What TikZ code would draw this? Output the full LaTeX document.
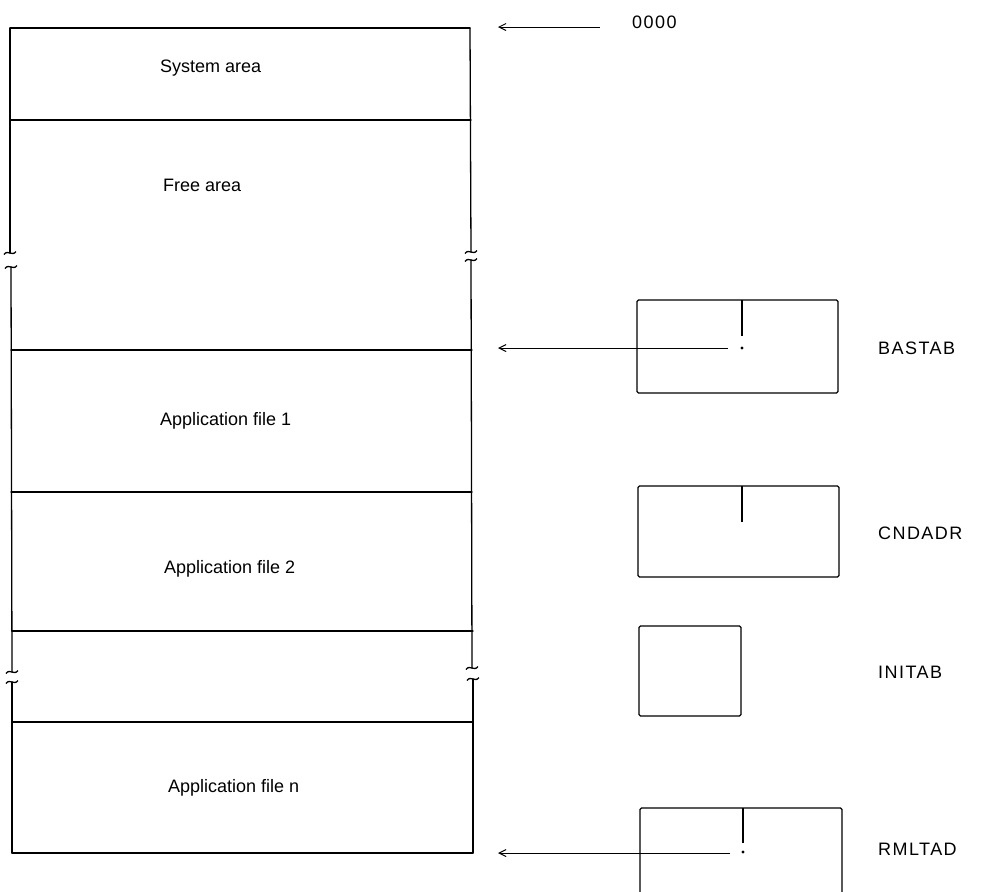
\documentclass[tikz,border=0pt]{standalone}
\usepackage{fontspec}
\setmainfont{Liberation Sans}
\newfontfamily\labelfont[LetterSpace=8]{Liberation Sans}
\usetikzlibrary{arrows.meta}
\newcommand\brkmark[2]{\draw[tilde] (#1-6,#2+1.5) .. controls (#1-2,#2-4) and (#1+2,#2+4) .. (#1+6,#2-1.5);}
\begin{document}
\begin{tikzpicture}[x=1pt,y=-1pt,
  wall/.style={line width=1.3pt, line cap=round, line join=round},
  tbl/.style={line width=1.1pt, rounded corners=1.5pt},
  arr/.style={line width=1pt, -{Straight Barb[length=7pt,width=7pt]}},
  txt/.style={font=\fontsize{18}{20}\selectfont, anchor=west, inner sep=0pt},
  lbl/.style={font=\labelfont\fontsize{18}{20}\selectfont, anchor=west, inner sep=0pt},
  tilde/.style={line width=1.3pt}]
\useasboundingbox (0,0) rectangle (986,892);
\fill[white] (0,0) rectangle (986,892);
% column corners and boundaries
\coordinate (TL) at (10,28);  \coordinate (TR) at (470,28);
\coordinate (S1L) at (10,120); \coordinate (S1R) at (471,120);
\coordinate (S2L) at (11,350); \coordinate (S2R) at (472,350);
\coordinate (S3L) at (11,492); \coordinate (S3R) at (472,492);
\coordinate (S4L) at (12,631); \coordinate (S4R) at (473,631);
\coordinate (S5L) at (12,722); \coordinate (S5R) at (473,722);
\coordinate (BL) at (12,853); \coordinate (BR) at (473,853);
\draw[wall] (TL) -- (TR);
\draw[wall] (S1L) -- (S1R);
\draw[wall] (S2L) -- (S2R);
\draw[wall] (S3L) -- (S3R);
\draw[wall] (S4L) -- (S4R);
\draw[wall] (S5L) -- (S5R);
\draw[wall] (BL) -- (BR);
% left side with breaks
\draw[wall] (TL) -- (10,253);
\draw[wall] (11,267) -- (12,672);
\draw[wall] (12,682) -- (BL);
\brkmark{10}{253}\brkmark{11}{267}
\brkmark{12}{672}\brkmark{12}{682}
% right side with breaks
\draw[wall] (TR) -- (471,252);
\draw[wall] (471,260) -- (472,668);
\draw[wall] (473,679) -- (BR);
\brkmark{471}{252}\brkmark{471}{260}
\brkmark{472}{668}\brkmark{473}{679}
% texts
\node[txt] (sys) at (160,68) {System area};
\node[txt] (free) at (163,185) {Free area};
\node[txt] (app1) at (160,421) {Application file 1};
\node[txt] (app2) at (164,569) {Application file 2};
\node[txt] (appn) at (168,788) {Application file n};
% 0000 pointer
\node[lbl] (zero) at (632,22) {0000};
\coordinate (z0) at (600,27); \coordinate (z1) at (498,27);
\draw[arr] (z0) -- (z1);
% BASTAB
\node[draw, tbl, inner sep=0pt, minimum width=201pt, minimum height=93pt] (bastab) at (737.5,346.5) {};
\draw[tbl] (742,300) -- (742,336);
\fill (742,348) circle (1.7);
\coordinate (bp) at (728,348); \coordinate (bt) at (498,348);
\draw[arr] (bp) -- (bt);
\node[lbl] (lbastab) at (878,348) {BASTAB};
% CNDADR
\node[draw, tbl, inner sep=0pt, minimum width=201pt, minimum height=91pt] (cndadr) at (738.5,531.5) {};
\draw[tbl] (742,486) -- (742,522);
\node[lbl] (lcndadr) at (878,533) {CNDADR};
% INITAB
\node[draw, tbl, inner sep=0pt, minimum width=102pt, minimum height=90pt] (initab) at (690,671) {};
\node[lbl] (linitab) at (878,672) {INITAB};
% RMLTAD
\draw[tbl] (640,895) -- (640,808) -- (842,808) -- (842,895);
\draw[tbl] (743,808) -- (743,843);
\fill (743,852) circle (1.7);
\coordinate (rp) at (730,853); \coordinate (rt) at (498,853);
\draw[arr] (rp) -- (rt);
\node[lbl] (lrmltad) at (878,849) {RMLTAD};
\end{tikzpicture}
\end{document}
